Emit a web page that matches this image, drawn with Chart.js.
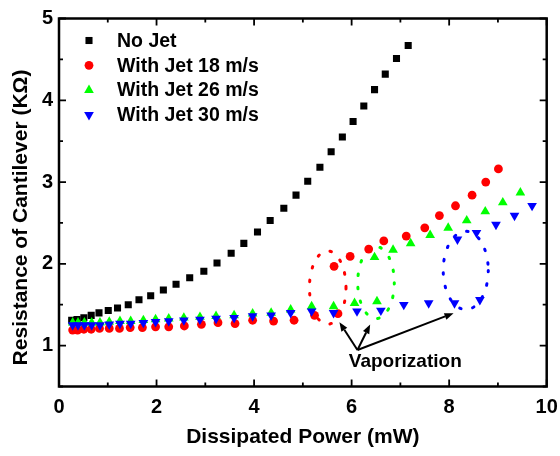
<!DOCTYPE html>
<html>
<head>
<meta charset="utf-8">
<script src="https://cdn.jsdelivr.net/npm/chart.js@4/dist/chart.umd.min.js"></script>
<style>html,body{margin:0;padding:0;background:#fff}canvas{display:block}</style>
</head>
<body>
<canvas id="c" width="560" height="456"></canvas>
<script>
// Tick values
const xTicks = [0, 2, 4, 6, 8, 10];
const yTicks = [1, 2, 3, 4, 5];

// Series names
const seriesNames = ['No Jet', 'With Jet 18 m/s', 'With Jet 26 m/s', 'With Jet 30 m/s'];

// No Jet: dissipated power (mW) and resistance (kΩ)
const noJetPower = [0.26,0.37,0.51,0.66,0.82,1.01,1.20,1.42,1.64,1.88,2.14,2.40,2.68,2.97,3.24,3.53,3.79,4.07,4.33,4.61,4.86,5.10,5.35,5.58,5.81,6.03,6.25,6.47,6.69,6.92,7.16];
const noJetResistance = [1.31,1.32,1.34,1.37,1.40,1.43,1.46,1.50,1.56,1.61,1.68,1.75,1.83,1.91,2.01,2.13,2.25,2.39,2.53,2.68,2.84,3.01,3.18,3.37,3.55,3.74,3.93,4.13,4.32,4.51,4.67];

// With Jet 18 m/s
const jet18Power = [0.28,0.38,0.51,0.66,0.83,1.03,1.24,1.46,1.71,1.98,2.25,2.57,2.92,3.26,3.61,3.97,4.40,4.82,5.24,5.72,
                    5.64,5.97,6.35,6.66,7.12,7.50,7.80,8.13,8.47,8.75,9.01];
const jet18Resistance = [1.19,1.19,1.20,1.20,1.21,1.21,1.21,1.22,1.22,1.23,1.23,1.24,1.26,1.28,1.27,1.31,1.30,1.31,1.37,1.39,
                         1.97,2.09,2.18,2.28,2.34,2.44,2.59,2.71,2.84,3.00,3.16];

// With Jet 26 m/s
const jet26Power = [0.28,0.39,0.52,0.67,0.84,1.03,1.25,1.47,1.73,1.98,2.25,2.56,2.89,3.22,3.59,3.97,4.35,4.75,5.18,5.63,6.06,6.52,
                    6.47,6.85,7.21,7.61,7.98,8.36,8.74,9.10,9.46];
const jet26Resistance = [1.28,1.28,1.28,1.28,1.28,1.29,1.30,1.30,1.31,1.32,1.33,1.34,1.35,1.36,1.37,1.39,1.40,1.44,1.48,1.48,1.52,1.54,
                         2.08,2.17,2.25,2.35,2.44,2.53,2.64,2.75,2.87];

// With Jet 30 m/s
const jet30Power = [0.28,0.39,0.52,0.67,0.84,1.03,1.25,1.47,1.73,1.98,2.25,2.56,2.89,3.22,3.59,3.97,4.35,4.75,5.18,5.63,6.11,6.60,7.07,7.58,8.11,8.63,
                    8.17,8.56,8.96,9.34,9.70];
const jet30Resistance = [1.25,1.25,1.25,1.25,1.25,1.26,1.27,1.27,1.28,1.29,1.30,1.31,1.32,1.33,1.34,1.36,1.37,1.40,1.42,1.40,1.42,1.43,1.50,1.52,1.52,1.56,
                         2.30,2.38,2.48,2.59,2.71];

// Dotted loops marking the vaporization jumps (data coordinates)
const vaporLoops = [
  { color: '#ff0000', cx: 5.51, cy: 1.71, rx: 0.375, ry: 0.448 },
  { color: '#00ff00', cx: 6.50, cy: 1.77, rx: 0.375, ry: 0.440 },
  { color: '#0000ff', cx: 8.34, cy: 1.92, rx: 0.462, ry: 0.479 }
];
// Annotation arrows: common origin and three tips (data coordinates)
const arrowOrigin = { x: 6.12, y: 0.947 };
const arrowTips = [ { x: 5.75, y: 1.286 }, { x: 6.38, y: 1.258 }, { x: 8.09, y: 1.396 } ];
const annotationText = { text: 'Vaporization', x: 7.10, y: 0.80 };

const FONT = 'Arial, "Liberation Sans", Helvetica, sans-serif';

function pts(xs, ys) { return xs.map((v, i) => ({ x: v, y: ys[i] })); }

const seriesStyles = [
  { color: '#000000', pointStyle: 'rect', radius: 5.0, rotation: 0 },
  { color: '#ff0000', pointStyle: 'circle', radius: 4.4, rotation: 0 },
  { color: '#00ff00', pointStyle: 'triangle', radius: 5.6, rotation: 0 },
  { color: '#0000ff', pointStyle: 'triangle', radius: 5.6, rotation: 180 }
];
const seriesData = [
  pts(noJetPower, noJetResistance),
  pts(jet18Power, jet18Resistance),
  pts(jet26Power, jet26Resistance),
  pts(jet30Power, jet30Resistance)
];

const datasets = seriesNames.map((name, i) => ({
  label: name,
  data: seriesData[i],
  showLine: false,
  pointStyle: seriesStyles[i].pointStyle,
  pointRadius: seriesStyles[i].radius,
  pointHoverRadius: seriesStyles[i].radius,
  pointRotation: seriesStyles[i].rotation,
  pointBackgroundColor: seriesStyles[i].color,
  pointBorderColor: seriesStyles[i].color,
  pointBorderWidth: 0,
  order: seriesNames.length - i
}));

// Dotted loops and arrows beneath the markers
const annotations = {
  id: 'annotations',
  beforeDatasetsDraw(chart) {
    const { ctx, scales: { x, y } } = chart;
    const ux = x.getPixelForValue(1) - x.getPixelForValue(0);
    const uy = y.getPixelForValue(0) - y.getPixelForValue(1);
    ctx.save();
    ctx.lineWidth = 3;
    ctx.lineCap = 'round';
    ctx.setLineDash([1.5, 12]);
    vaporLoops.forEach(l => {
      ctx.strokeStyle = l.color;
      ctx.beginPath();
      ctx.ellipse(x.getPixelForValue(l.cx), y.getPixelForValue(l.cy), l.rx * ux, l.ry * uy, 0, 0, Math.PI * 2);
      ctx.stroke();
    });
    ctx.setLineDash([]);
    ctx.lineCap = 'butt';
    ctx.strokeStyle = '#000';
    ctx.fillStyle = '#000';
    ctx.lineWidth = 2;
    const ox = x.getPixelForValue(arrowOrigin.x), oy = y.getPixelForValue(arrowOrigin.y);
    arrowTips.forEach(t => {
      const tx = x.getPixelForValue(t.x), ty = y.getPixelForValue(t.y);
      const ang = Math.atan2(ty - oy, tx - ox);
      const hl = 9, hw = 3.5;
      const bx = tx - Math.cos(ang) * hl, by = ty - Math.sin(ang) * hl;
      ctx.beginPath();
      ctx.moveTo(ox, oy);
      ctx.lineTo(bx, by);
      ctx.stroke();
      ctx.beginPath();
      ctx.moveTo(tx, ty);
      ctx.lineTo(bx + Math.sin(ang) * hw, by - Math.cos(ang) * hw);
      ctx.lineTo(bx - Math.sin(ang) * hw, by + Math.cos(ang) * hw);
      ctx.closePath();
      ctx.fill();
    });
    ctx.font = 'bold 19px ' + FONT;
    ctx.textAlign = 'center';
    ctx.textBaseline = 'middle';
    ctx.fillText(annotationText.text, x.getPixelForValue(annotationText.x), y.getPixelForValue(annotationText.y));
    ctx.restore();
  }
};

// Plot frame with inward ticks on all four sides, legend and y-axis title
const frame = {
  id: 'frame',
  afterDraw(chart) {
    const { ctx, chartArea: a, scales: { x, y } } = chart;
    ctx.save();
    ctx.strokeStyle = '#000';
    ctx.lineWidth = 1.8;
    ctx.beginPath();
    for (let v = 0; v <= 10; v += 1) {
      const px = x.getPixelForValue(v);
      const len = (v % 2 === 0) ? 7 : 4;
      ctx.moveTo(px, a.bottom); ctx.lineTo(px, a.bottom - len);
      ctx.moveTo(px, a.top); ctx.lineTo(px, a.top + len);
    }
    for (let v = 0.5; v <= 5; v += 0.5) {
      const py = y.getPixelForValue(v);
      const len = (v % 1 === 0) ? 7 : 4;
      ctx.moveTo(a.left, py); ctx.lineTo(a.left + len, py);
      ctx.moveTo(a.right, py); ctx.lineTo(a.right - len, py);
    }
    ctx.stroke();
    ctx.lineWidth = 2.5;
    ctx.strokeRect(a.left, a.top, a.right - a.left, a.bottom - a.top);

    // legend
    ctx.font = 'bold 19.5px ' + FONT;
    ctx.textAlign = 'left';
    ctx.textBaseline = 'middle';
    chart.data.datasets.forEach((ds, i) => {
      const my = a.top + 22 + i * 24.8;
      const mx = a.left + 30;
      ctx.fillStyle = ds.pointBackgroundColor;
      Chart.helpers.drawPoint(ctx, { pointStyle: ds.pointStyle, rotation: ds.pointRotation, radius: ds.pointRadius, borderWidth: 0 }, mx, my);
      ctx.fillStyle = '#000';
      ctx.fillText(ds.label, a.left + 58, my + 1);
    });

    // y-axis title
    ctx.translate(21, (a.top + a.bottom) / 2 + 15);
    ctx.rotate(-Math.PI / 2);
    ctx.font = 'bold 21px ' + FONT;
    ctx.textAlign = 'center';
    ctx.textBaseline = 'middle';
    ctx.fillStyle = '#000';
    ctx.fillText('Resistance of Cantilever (KΩ)', 0, 0);
    ctx.restore();
  }
};

new Chart(document.getElementById('c'), {
  type: 'scatter',
  data: { datasets },
  options: {
    responsive: false,
    animation: false,
    devicePixelRatio: 1,
    layout: { padding: { top: 18.5, right: 13.3, left: 0, bottom: 0 } },
    plugins: { legend: { display: false }, tooltip: { enabled: false } },
    scales: {
      x: {
        type: 'linear', min: 0, max: 10,
        afterBuildTicks(s) { s.ticks = xTicks.map(v => ({ value: v })); },
        afterFit(s) { s.height = 69.5; s.paddingLeft = 0; s.paddingRight = 0; },
        grid: { display: false, drawTicks: false },
        border: { display: false },
        ticks: { color: '#000', padding: 9, font: { family: FONT, size: 20, weight: 'bold' } },
        title: { display: true, text: 'Dissipated Power (mW)', color: '#000', padding: { top: 4, bottom: 6 },
                 font: { family: FONT, size: 21, weight: 'bold' } }
      },
      y: {
        type: 'linear', min: 0.5, max: 5,
        afterBuildTicks(s) { s.ticks = yTicks.map(v => ({ value: v })); },
        afterFit(s) { s.width = 59; s.paddingTop = 0; s.paddingBottom = 0; },
        grid: { display: false, drawTicks: false },
        border: { display: false },
        ticks: { color: '#000', padding: 6, font: { family: FONT, size: 20, weight: 'bold' } }
      }
    }
  },
  plugins: [annotations, frame]
});
</script>
</body>
</html>
